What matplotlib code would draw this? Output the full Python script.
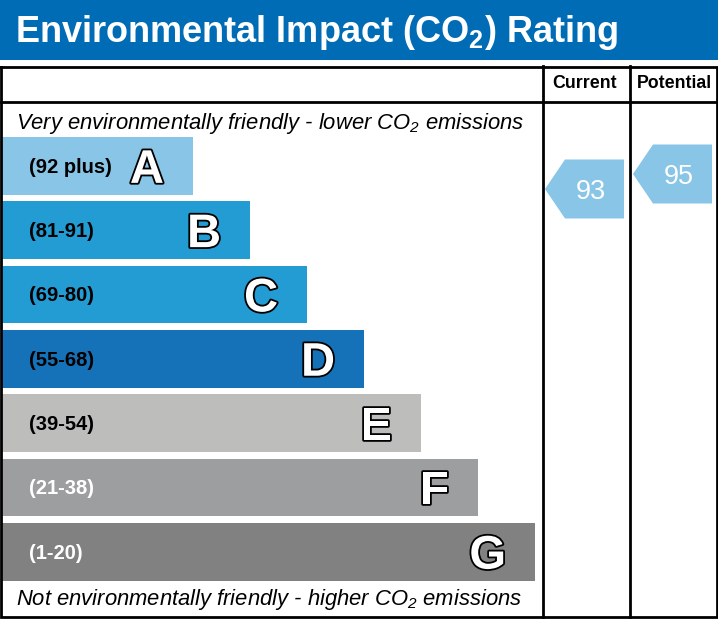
import matplotlib
matplotlib.use("Agg")
import matplotlib.pyplot as plt
import matplotlib.patheffects as pe

plt.rcParams['font.family'] = ['Liberation Sans', 'DejaVu Sans']
plt.rcParams['mathtext.fontset'] = 'custom'
plt.rcParams['mathtext.rm'] = 'Liberation Sans'
plt.rcParams['mathtext.it'] = 'Liberation Sans:italic'
plt.rcParams['mathtext.bf'] = 'Liberation Sans:bold'
plt.rcParams['mathtext.default'] = 'regular'

# data
bands = ['A', 'B', 'C', 'D', 'E', 'F', 'G']
ranges = ['(92 plus)', '(81-91)', '(69-80)', '(55-68)', '(39-54)', '(21-38)', '(1-20)']
bar_colors = ['#89c5e7', '#239bd3', '#239bd3', '#1672b8', '#bdbdbc', '#9d9ea0', '#818181']
range_colors = ['black', 'black', 'black', 'black', 'black', 'white', 'white']
current = 93
potential = 95
title = 'Environmental Impact (CO$_2$) Rating'
top_note = 'Very environmentally friendly - lower CO$_2$ emissions'
bottom_note = 'Not environmentally friendly - higher CO$_2$ emissions'

W, H = 718, 619
fig = plt.figure(figsize=(W / 100, H / 100), dpi=100)
ax = fig.add_axes([0, 0, 1, 1])
ax.set_xlim(0, W)
ax.set_ylim(H, 0)
ax.axis('off')

# title band
ax.add_patch(plt.Rectangle((0, 0), W, 60, color='#006cb5', lw=0))
ax.text(15, 42, title, color='white', fontsize=26, weight='bold', va='baseline')

# table frame
lw = 2.0
ax.plot([1, 717, 717, 1, 1], [66.5, 66.5, 617, 617, 66.5], color='black', lw=lw,
        solid_joinstyle='miter')
ax.plot([1, 717], [101.5, 101.5], color='black', lw=lw)
for xc in (543, 630):
    ax.plot([xc, xc], [66, 617], color='black', lw=lw)
ax.text(584.5, 84, 'Current', ha='center', va='center', fontsize=12.8, weight='bold')
ax.text(674, 84, 'Potential', ha='center', va='center', fontsize=12.8, weight='bold')

ax.text(16, 128.5, top_note, fontsize=15.8, style='italic', va='baseline')
ax.text(16, 605.5, bottom_note, fontsize=15.8, style='italic', va='baseline')

# bars
pitch = 64.3
bar_h = 57.7
centers = [137 + bar_h / 2 + i * pitch for i in range(len(bands))]
widths = [191 + i * 57 for i in range(len(bands))]
ax.barh(centers, widths, height=bar_h, left=2, color=bar_colors, lw=0)
for yc, w, b, r, rc in zip(centers, widths, bands, ranges, range_colors):
    ax.text(29, yc + 7, r, color=rc, fontsize=14.5, weight='bold', va='baseline')
    ax.text(2 + w - 29, yc + 17, b, color='white', fontsize=34, weight='bold',
            ha='right', va='baseline',
            path_effects=[pe.withStroke(linewidth=2.6, foreground='black')])


# rating arrows
def arrow(x0, x1, value):
    yc = 174 + (95 - value) * 7.5
    h = 59
    tip = 20
    xs = [x0, x0 + tip, x1, x1, x0 + tip]
    ys = [yc, yc - h / 2, yc - h / 2, yc + h / 2, yc + h / 2]
    ax.fill(xs, ys, color='#89c5e7', lw=0)
    ax.text((x0 + tip + x1) / 2 - 4, yc, str(value), color='white', fontsize=19.5,
            ha='center', va='center_baseline')


arrow(545, 624, current)
arrow(633, 712, potential)

fig.savefig('out.png', dpi=100)
